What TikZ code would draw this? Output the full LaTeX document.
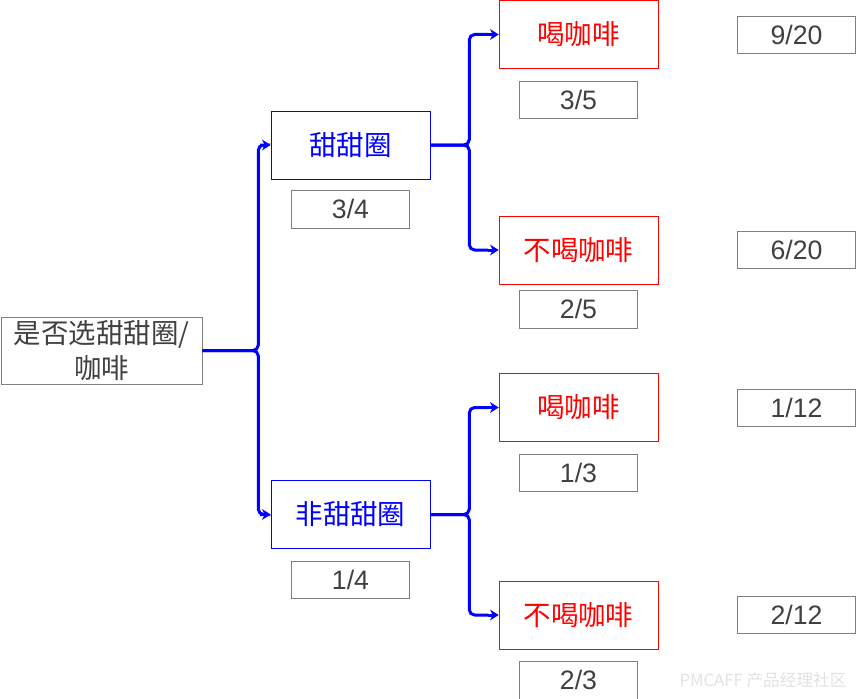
\documentclass[tikz,border=0pt]{standalone}
\usepackage{fontspec}
\setmainfont{Liberation Sans}
\newfontfamily\cjk{Noto Sans CJK SC}
\usetikzlibrary{positioning, arrows.meta}

\definecolor{boxgray}{RGB}{127,127,127}
\definecolor{textgray}{RGB}{64,64,64}
\definecolor{linkblue}{RGB}{0,0,255}
\definecolor{cafered}{RGB}{255,0,0}
\definecolor{markgray}{RGB}{226,226,230}

\begin{document}
\begin{tikzpicture}[x=0.75pt,y=-0.75pt]
		\tikzset{
			every node/.style={font=\fontsize{20}{26}\selectfont},
			rootbox/.style={draw=boxgray, text=textgray, align=center, inner sep=0pt, minimum width=150.75pt, minimum height=50.25pt, font=\fontsize{20.6}{26}\selectfont\cjk},
			donutbox/.style={draw=linkblue, text=linkblue, inner sep=0pt, minimum width=119.25pt, minimum height=51pt, font=\fontsize{20.6}{26}\selectfont\cjk},
			coffeebox/.style={draw=cafered, text=cafered, inner sep=0pt, minimum width=119.25pt, minimum height=51pt, font=\fontsize{20.6}{26}\selectfont\cjk},
			probbox/.style={draw=boxgray, text=textgray, inner sep=0pt, minimum width=88.5pt, minimum height=28pt},
			link/.style={draw=linkblue, line width=2.25pt, rounded corners=4pt},
			tip/.style={-{Stealth[length=6.5pt,width=8pt,inset=2pt]}}
		}
		\useasboundingbox (0,0) rectangle (856,699);
		
		% Root
		\node[rootbox] (root) at (101.5,350.5) {是否选甜甜圈/\\咖啡};
		
		% Donut choice
		\node[donutbox] (donut) at (350.5,145) {甜甜圈};
		\node[probbox, below=8.25pt of donut] (pdonut) {3/4};
		\node[donutbox] (nodonut) at (350.5,514.5) {非甜甜圈};
		\node[probbox, below=9pt of nodonut] (pnodonut) {1/4};
		
		% Coffee choice
		\node[coffeebox] (cafeA) at (578.5,34.5) {喝咖啡};
		\node[probbox, below=9pt of cafeA] (pcafeA) {3/5};
		\node[coffeebox] (nocafeA) at (578.5,250) {不喝咖啡};
		\node[probbox, below=4.5pt of nocafeA] (pnocafeA) {2/5};
		\node[coffeebox] (cafeB) at (578.5,407.5) {喝咖啡};
		\node[probbox, below=9pt of cafeB] (pcafeB) {1/3};
		\node[coffeebox] (nocafeB) at (578.5,615) {不喝咖啡};
		\node[probbox, below=9pt of nocafeB] (pnocafeB) {2/3};
		
		% Joint probabilities
		\node[probbox, right=59.25pt of cafeA] (jA) {9/20};
		\node[probbox, right=59.25pt of nocafeA] (jB) {6/20};
		\node[probbox, right=59.25pt of cafeB] (jC) {1/12};
		\node[probbox, right=59.25pt of nocafeB] (jD) {2/12};
		
		% Connectors
		\foreach \from/\to/\dx in {root/donut/56, root/nodonut/56, donut/cafeA/39, donut/nocafeA/39, nodonut/cafeB/39, nodonut/nocafeB/39}
		{
			\draw[link] (\from.east) -- ++(\dx,0) |- ([xshift=-8pt]\to.west) coordinate (end);
			\draw[link, tip] (end) -- (\to.west);
		}
		
		% Watermark
		\node[text=markgray, font=\fontsize{12.5}{13}\selectfont\cjk] (mark) at (763,680) {PMCAFF 产品经理社区};
		
	\end{tikzpicture}
\end{document}
